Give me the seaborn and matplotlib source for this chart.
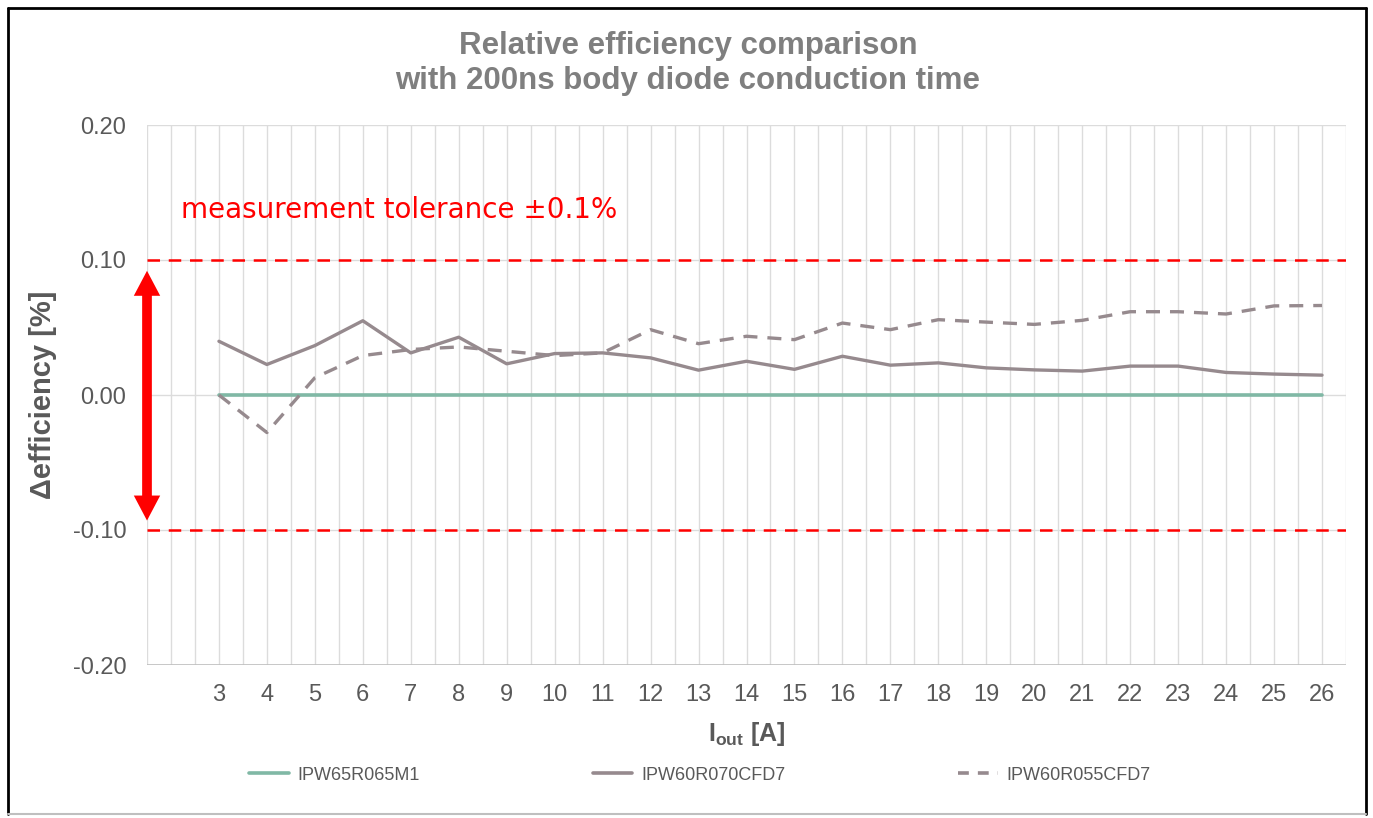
import pandas as pd
import matplotlib
matplotlib.use('Agg')
import matplotlib.pyplot as plt
import seaborn as sns
from matplotlib.patches import FancyArrowPatch
from matplotlib.lines import Line2D

# Daten
i_out = list(range(3, 27))
ipw65r065m1 = [0.0] * 24
ipw60r070cfd7 = [0.0398, 0.0226, 0.0366, 0.0550, 0.0312, 0.0428, 0.0231, 0.0307, 0.0312, 0.0275,
                 0.0184, 0.0250, 0.0190, 0.0287, 0.0221, 0.0238, 0.0201, 0.0186, 0.0177, 0.0214,
                 0.0214, 0.0167, 0.0155, 0.0147]
ipw60r055cfd7 = [0.0, -0.0278, 0.0128, 0.0292, 0.0337, 0.0356, 0.0324, 0.0292, 0.0312, 0.0484,
                 0.0380, 0.0435, 0.0410, 0.0533, 0.0484, 0.0558, 0.0540, 0.0523, 0.0553, 0.0617,
                 0.0617, 0.0600, 0.0660, 0.0663]
series_names = ['IPW65R065M1', 'IPW60R070CFD7', 'IPW60R055CFD7']
y_ticks = [-0.2, -0.1, 0.0, 0.1, 0.2]
y_ticklabels = ['-0.20', '-0.10', '0.00', '0.10', '0.20']
tolerance = 0.1

sns.set_theme(style='white')
plt.rcParams['font.family'] = ['Liberation Sans', 'DejaVu Sans']
plt.rcParams['mathtext.fontset'] = 'custom'
plt.rcParams['mathtext.rm'] = 'Liberation Sans'
plt.rcParams['mathtext.bf'] = 'Liberation Sans:bold'

green = '#80B8A5'
mauve = '#968A8E'
grid_c = '#DCDCDC'
text_c = '#595959'

fig = plt.figure(figsize=(13.73, 8.18), dpi=100)
ax = fig.add_axes([147 / 1373, 1 - 665 / 818, (1346 - 147) / 1373, (665 - 125) / 818])

# Gitter
for gx in [1.5 + 0.5 * k for k in range(51)]:
    ax.axvline(gx, color=grid_c, lw=1, zorder=0)
for gy in y_ticks:
    ax.axhline(gy, color=grid_c, lw=1, zorder=0)

# Toleranzlinien
for t in (tolerance, -tolerance):
    ax.axhline(t, color='red', lw=1.8, linestyle=(0, (5, 3.5)), zorder=1)

df = pd.DataFrame({'Iout': i_out, 'a': ipw65r065m1, 'b': ipw60r070cfd7, 'c': ipw60r055cfd7})
sns.lineplot(data=df, x='Iout', y='a', ax=ax, color=green, lw=2.6, zorder=3)
sns.lineplot(data=df, x='Iout', y='b', ax=ax, color=mauve, lw=2.4, zorder=3)
sns.lineplot(data=df, x='Iout', y='c', ax=ax, color=mauve, lw=2.4, linestyle=(0, (4.2, 3.0)), zorder=3)

ax.set_xlim(1.5, 26.5)
ax.set_ylim(-0.2, 0.2)
ax.set_xticks(i_out)
ax.set_xticklabels([str(v) for v in i_out], fontsize=17, color=text_c)
ax.set_yticks(y_ticks)
ax.set_yticklabels(y_ticklabels, fontsize=17, color=text_c)
ax.tick_params(axis='y', length=0, pad=15)
ax.tick_params(axis='x', length=0, pad=14)
for s in ax.spines.values():
    s.set_visible(False)
ax.axhline(-0.2, color='#BFBFBF', lw=1.2, zorder=1)

ax.set_xlabel(r'$\mathbf{I_{out}}$ [A]', fontsize=18, fontweight='bold', color=text_c, labelpad=10)
ax.set_ylabel('Δefficiency [%]', fontsize=21, fontweight='bold', color=text_c, labelpad=11)

# Doppelpfeil
for end in (0.092, -0.093):
    arr = FancyArrowPatch((1.5, 0.0), (1.5, end), arrowstyle='simple,head_length=18,head_width=19,tail_width=7',
                          mutation_scale=1, color='red', lw=0, shrinkA=0, shrinkB=0, clip_on=False, zorder=5)
    ax.add_patch(arr)

ax.text(2.2, 0.137, 'measurement tolerance ±0.1%', color='red', fontsize=20,
        family='DejaVu Sans', ha='left', va='center')

# Titel
fig.text(0.501, 1 - 46 / 818, 'Relative efficiency comparison', ha='center', va='center',
         fontsize=22.5, fontweight='bold', color='#7F7F7F')
fig.text(0.501, 1 - 81 / 818, 'with 200ns body diode conduction time', ha='center', va='center',
         fontsize=22.5, fontweight='bold', color='#7F7F7F')

# Legende
handles = [Line2D([], [], color=green, lw=2.6),
           Line2D([], [], color=mauve, lw=2.6),
           Line2D([], [], color=mauve, lw=2.6, linestyle=(0, (3, 2.5)))]
fig.legend(handles, series_names, ncol=3, loc='center left', bbox_to_anchor=(0.1695, 1 - 775 / 818),
           frameon=False, fontsize=13, handlelength=2.2, handletextpad=0.5, columnspacing=9.55,
           labelcolor=text_c)

# Rahmen
fig.add_artist(Line2D([0.006, 0.006], [0.005, 0.99], color='black', lw=2, transform=fig.transFigure))
fig.add_artist(Line2D([0.995, 0.995], [0.005, 0.99], color='black', lw=2, transform=fig.transFigure))
fig.add_artist(Line2D([0.006, 0.995], [0.99, 0.99], color='black', lw=2, transform=fig.transFigure))
fig.add_artist(Line2D([0.006, 0.995], [0.005, 0.005], color='#BFBFBF', lw=1.5, transform=fig.transFigure))

fig.savefig('out.png', dpi=100)
